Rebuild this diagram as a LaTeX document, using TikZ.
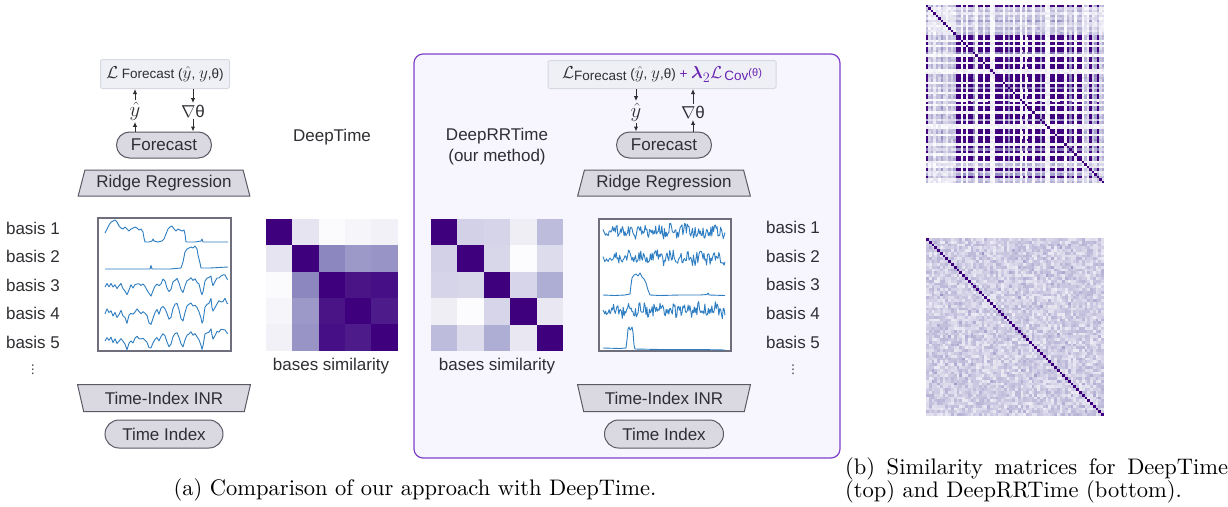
\documentclass[tikz,border=0pt]{standalone}
\usepackage{amsmath}
\usepackage{fontspec}
\newfontfamily\lab{Liberation Sans}
\newfontfamily\sym{DejaVu Sans}
\newfontfamily\capfont{lmroman10-regular}[Extension=.otf]
\usetikzlibrary{shapes.geometric,arrows.meta}

\definecolor{ink}{HTML}{2E2E33}
\definecolor{boxfill}{HTML}{DAD9E2}
\definecolor{boxdraw}{HTML}{5A5A66}
\definecolor{lossfill}{HTML}{EEF0F6}
\definecolor{lossdraw}{HTML}{D6D9E0}
\definecolor{panelfill}{HTML}{F7F6FE}
\definecolor{paneldraw}{HTML}{7E3FC9}
\definecolor{accent}{HTML}{6A24B2}
\definecolor{seriesblue}{HTML}{2F7EC2}
\definecolor{plotframe}{HTML}{6E6E7C}
\definecolor{PDark}{HTML}{3F007D}
\definecolor{PMid}{HTML}{9E9AC8}
\definecolor{PLight}{HTML}{FCFBFD}

% value (0..100) -> Purples colour named "heat"
\newcommand\heatcolor[1]{%
  \ifnum#1<0 \colorlet{heat}{PLight}\else
  \ifnum#1<50 \pgfmathtruncatemacro\hq{2*#1}\colorlet{heat}{PMid!\hq!PLight}\else
  \ifnum#1>99 \colorlet{heat}{PDark}\else
  \pgfmathtruncatemacro\hq{2*(#1-50)}\colorlet{heat}{PDark!\hq!PMid}\fi\fi\fi}

\tikzset{
  lbl/.style={font=\lab\fontsize{17}{21}\selectfont, text=ink},
  pill/.style={lbl, draw=boxdraw, fill=boxfill, line width=1pt, rounded corners=13pt,
    minimum height=26pt, inner sep=0pt},
  trap/.style={lbl, trapezium, draw=boxdraw, fill=boxfill, line width=1pt,
    trapezium stretches=true, trapezium left angle=70, trapezium right angle=70,
    minimum height=26pt, minimum width=172pt, inner sep=0pt},
  loss/.style={draw=lossdraw, fill=lossfill, line width=1pt, rounded corners=1.5pt,
    inner sep=0pt, text=ink, font=\lab\fontsize{13.5}{16}\selectfont},
  flow/.style={-{Latex[length=5pt,width=4.5pt]}, line width=1pt, draw=ink},
  frame/.style={draw=plotframe, line width=1.2pt, fill=white, inner sep=0pt},
  curve/.style={draw=seriesblue, line width=0.9pt, line join=round},
  panel/.style={draw=paneldraw, fill=panelfill, line width=1.2pt, rounded corners=9pt, inner sep=0pt},
  vlbl/.style={lbl, inner sep=1.5pt},
  vdots/.style={font=\sym\fontsize{12}{12}\selectfont, text=ink, inner sep=0pt},
  caption/.style={font=\capfont\fontsize{22.5}{20.5}\selectfont, text=black, inner sep=0pt}
}
\newcommand\Lcal{{\fontsize{19}{19}\selectfont$\mathcal{L}$}}
\newcommand\yhat{{\fontsize{21}{21}\selectfont$\hat{y}$}}

\begin{document}
\begin{tikzpicture}[x=1pt,y=-1pt]
\useasboundingbox (0,0) rectangle (1228,506);

% ---------- DeepRRTime panel background ----------
\node[panel, minimum width=426pt, minimum height=404pt] (panel) at (627,256) {};

% ---------- DeepTime pipeline ----------
\node[loss, minimum width=129pt, minimum height=29pt] (lossL) at (165,74)
  {\Lcal\ Forecast ({\fontsize{16}{16}\selectfont$\hat{y}$}, {\fontsize{16}{16}\selectfont$y$},θ)};
\node[pill, minimum width=95pt] (fcL) at (164,145) {Forecast};
\node[trap] (rrL) at (164,183) {Ridge Regression};
\node[vlbl] (yhL) at (135,111) {\yhat};
\node[vlbl] (gL) at (193,111) {$\nabla$θ};
\draw[flow] (fcL.north -| yhL) -- (yhL.south);
\draw[flow] (yhL.north) -- (lossL.south -| yhL);
\draw[flow] (lossL.south -| gL) -- (gL.north);
\draw[flow] (gL.south) -- (fcL.north -| gL);

\node[frame, minimum width=133pt, minimum height=133pt] (plotL) at (164.5,284.5) {};
\foreach \k/\yy in {1/228,2/256,3/285,4/313,5/342}
  \node[lbl] (bL\k) at (33,\yy) {basis \k};
\node[vdots] (dotsL) at (33,370) {⋮};

\node[trap, shape border rotate=180, minimum width=173pt, minimum height=27pt] (tiL) at (164,398) {Time-Index INR};
\node[pill, minimum width=118pt, minimum height=28pt, rounded corners=14pt] (tixL) at (164,434) {Time Index};

% DeepTime basis curves
\draw[curve] plot coordinates {(105,233) (107,229) (109,225) (111,222) (113,221) (115,220)
  (117,222) (119,226) (121,228) (123,229) (125,227) (127,229) (129,231) (131,229) (133,228)
  (135,227) (137,228) (139,230) (141,229) (143,232) (144,238) (145,242) (149,242) (152,241)
  (153,239) (154,241) (158,242) (162,241) (164,239) (166,234) (168,229) (170,227) (172,226)
  (174,229) (176,231) (178,229) (180,230) (182,231) (184,230) (185,234) (186,242) (195,242)
  (201,241) (202,239) (203,242) (228,242)};
\draw[curve] plot coordinates {(105,269) (130,269) (150,269) (151,265.5) (152,269) (170,269)
  (181,268) (183,262) (185,252) (187,249) (189,248) (191,247) (193,248) (195,246) (197,249)
  (198,255) (200,263) (201,268) (210,268) (228,267)};
\pgfmathsetseed{3}
\foreach \cy/\amp in {285/1,311.5/1.2,339/1}{
  \draw[curve] (105,{\cy+2*\amp})
    \foreach \xx/\dd in {107/-2,109/1,111/-1,113/3,115/0,117/4,119/2,121/-1,123/3,125/6,
      127/10,129/4,131/1,133/3,135/0,137/-2,139/-1,141/1,143/0,145/2,147/4,149/9,151/10,
      153/5,155/1,157/-1,159/2,161/-2,163/-5,165/-3,167/2,169/7,171/5,173/-2,175/-5,177/-6,
      179/-1,181/5,183/8,185/0,187/-4,189/-6,191/-7,193/-5,195/-6,197/-3,199/0,201/6,
      202/10,203/8,205/-4,207/-7,209/-8,211/-10,212/-4,213/0,215/-4,217/-7,219/-8,221/-9,
      223/-9,225/-10,227/-7,228/-6}
    { -- (\xx,{\cy+\amp*\dd+1.3*rand}) };
}

% DeepTime 5x5 similarity
\node[lbl] (dtTitle) at (332,137) {DeepTime};
\foreach \row [count=\r from 0] in {
  {3F007D,E6E4F1,FBFAFD,F6F5FA,F2F1F8},
  {E6E4F1,3F007D,8C87BF,9C98C8,9894C6},
  {FBFAFD,8C87BF,3F007D,4A1486,460F86},
  {F6F5FA,9C98C8,4A1486,3F007D,4E1B8A},
  {F2F1F8,9894C6,460F86,4E1B8A,3F007D}}{
  \foreach \hx [count=\c from 0] in \row {
    \definecolor{cellc}{HTML}{\hx}
    \fill[cellc] ({266+26.3*\c},{219+26.3*\r}) rectangle ++(26.5,26.5);
  }
}
\node[lbl] (simL) at (331,366) {bases similarity};

% ---------- DeepRRTime pipeline ----------
\node[loss, minimum width=228pt, minimum height=28pt] (lossR) at (662,74.5)
  {\Lcal\raisebox{-1.5pt}{Forecast} ({\fontsize{16}{16}\selectfont$\hat{y}$}, {\fontsize{16}{16}\selectfont$y$},θ)
   \textcolor{accent}{+ {\fontsize{19}{19}\selectfont$\boldsymbol{\lambda}_2\mathcal{L}$}\,\raisebox{-2pt}{Cov}\raisebox{2.5pt}{\fontsize{11}{12}\selectfont(θ)}}};
\node[pill, minimum width=95pt] (fcR) at (664,145) {Forecast};
\node[trap, minimum width=173pt] (rrR) at (664,183) {Ridge Regression};
\node[vlbl] (yhR) at (636,112) {\yhat};
\node[vlbl] (gR) at (693,112) {$\nabla$θ};
\draw[flow] (lossR.south -| yhR) -- (yhR.north);
\draw[flow] (yhR.south) -- (fcR.north -| yhR);
\draw[flow] (fcR.north -| gR) -- (gR.south);
\draw[flow] (gR.north) -- (lossR.south -| gR);

\node[lbl, align=center] (drTitle) at (497,146.5) {DeepRRTime\\(our method)};

\foreach \row [count=\r from 0] in {
  {3F007D,D2D1E7,D5D4E8,EFEEF5,BDBCDC},
  {D2D1E7,3F007D,D8D7EA,FCFCFE,DDDCED},
  {D5D4E8,D8D7EA,3F007D,D6D5E9,AEADD4},
  {EFEEF5,FCFCFE,D6D5E9,3F007D,E8E7F2},
  {BDBCDC,DDDCED,AEADD4,E8E7F2,3F007D}}{
  \foreach \hx [count=\c from 0] in \row {
    \definecolor{cellc}{HTML}{\hx}
    \fill[cellc] ({431+26.4*\c},{219+26.4*\r}) rectangle ++(26.6,26.6);
  }
}
\node[lbl] (simR) at (497,366) {bases similarity};

\node[frame, minimum width=132pt, minimum height=132pt] (plotR) at (665,285) {};
\foreach \k/\yy in {1/227,2/256,3/284,4/313,5/342}
  \node[lbl] (bR\k) at (793,\yy) {basis \k};
\node[vdots] (dotsR) at (793,370) {⋮};

% DeepRRTime basis curves
\pgfmathsetseed{21}
\foreach \cy/\amp in {231/6.5,258/6.5,310/7}{
  \draw[curve] plot[domain=603:725, samples=140, variable=\x]
    (\x,{\cy + \amp*(0.3+0.7*min(1,(\x-603)/20))*rand + 2*sin(25*(\x-603))});
}
\draw[curve] plot coordinates {(603,295) (615,295.5) (625,295) (630,294) (631,285) (632,278)
  (634,275) (636,274) (638,276) (640,273) (642,277) (644,279) (646,283) (648,290) (650,295)
  (660,295.5) (680,295) (700,295) (707,294.5) (708,293) (709,295) (725,295.5)};
\draw[curve] plot coordinates {(603,348) (620,348.5) (626,348) (627,340) (628,329) (629,327)
  (630,330) (631,329) (632,327) (633,332) (634,345) (635,349) (660,349.5) (700,349.5) (725,350)};

\node[trap, shape border rotate=180, minimum width=173pt, minimum height=27pt] (tiR) at (664,398) {Time-Index INR};
\node[pill, minimum width=119pt, minimum height=28pt, rounded corners=14pt] (tixR) at (664,434) {Time Index};

% ---------- large similarity matrices ----------
% DeepTime: 72 x 72 cells on a dark ground; only the lighter cells are painted
\foreach \v [count=\k from 0] in {9, 2,3,1,3,2,4,2,1,3,2,3,
  9,9,0,9,0,9,9,5,0,9, 9,0,9,9,0,0,9,9,9,0, 9,5,9,0,9,9,0,9,0,9,
  9,0,9,9,4,9,0,0,9,9, 0,9,9,9,0,9,5,9,0,9, 9,0,
  3,1,9,2,4,9,2,3}
  {\expandafter\xdef\csname ta\k\endcsname{\v}}

\fill[PDark] (926,5) rectangle (1104,183);
\pgfmathsetseed{11}
\foreach \i in {0,...,71}{
  \foreach \j in {\i,...,71}{
    \ifnum\i<\j
      \edef\ai{\csname ta\i\endcsname}\edef\aj{\csname ta\j\endcsname}
      \pgfmathtruncatemacro\p{100*\ai*\aj/81 + 16*rnd - 5}
      \ifnum\p<100
        \heatcolor{\p}
        \fill[heat] ({926+2.4722*\j},{5+2.4722*\i}) rectangle ++(2.6,2.6);
        \fill[heat] ({926+2.4722*\i},{5+2.4722*\j}) rectangle ++(2.6,2.6);
      \fi
    \fi
  }
}
% self-similarity diagonal
\foreach \i in {0,...,71}
  \fill[PDark] ({926+2.4722*\i},{5+2.4722*\i}) rectangle ++(2.4722,2.4722);
\coordinate (matTop) at (1015,94);

% DeepRRTime: 64 x 64 cells of weak noise with a dark diagonal
\pgfmathsetseed{5}
\foreach \i in {0,...,63}{
  \foreach \j in {\i,...,63}{
    \ifnum\i=\j \def\p{100}\else
      \pgfmathtruncatemacro\p{8 + 28*rnd + 28*rnd*rnd*rnd*rnd}\fi
    \heatcolor{\p}
    \fill[heat] ({926+2.78125*\j},{238+2.78125*\i}) rectangle ++(2.95,2.95);
    \ifnum\i<\j
      \fill[heat] ({926+2.78125*\i},{238+2.78125*\j}) rectangle ++(2.95,2.95);
    \fi
  }
}
\foreach \i in {0,...,63}
  \fill[PDark] ({926+2.78125*\i},{238+2.78125*\i}) rectangle ++(2.78125,2.78125);
\coordinate (matBot) at (1015,327);

% ---------- captions ----------
\node[caption] (capA) at (415,490) {(a) Comparison of our approach with DeepTime.};
\node[caption, anchor=north west, text width=383pt, align=justify] (capB) at (845,457)
  {(b) Similarity matrices for DeepTime (top) and DeepRRTime (bottom).};
\end{tikzpicture}
\end{document}
